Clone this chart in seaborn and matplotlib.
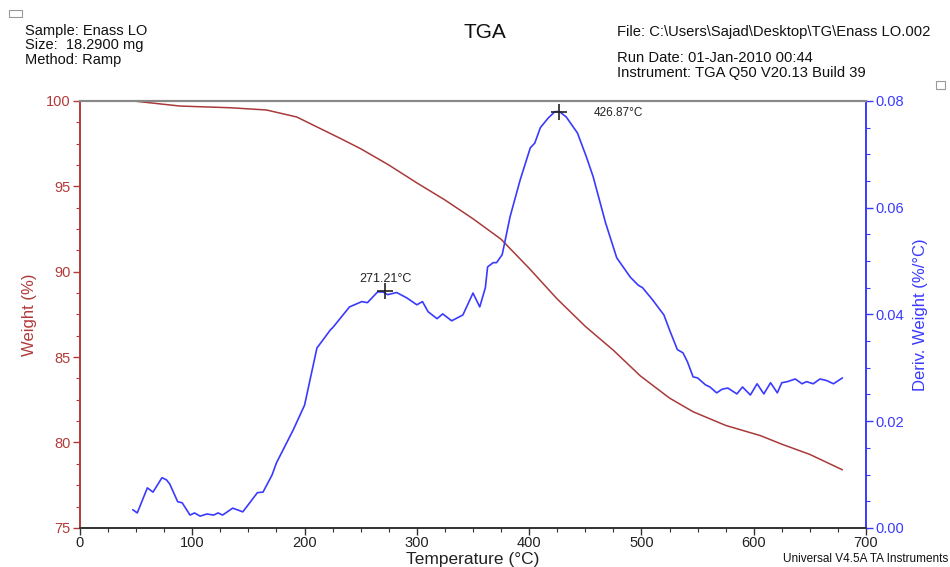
import matplotlib
matplotlib.use("Agg")
import matplotlib.pyplot as plt
import matplotlib.patches as mpatches
from matplotlib.ticker import MultipleLocator
import seaborn as sns
import pandas as pd

sns.set_theme(style="white")
plt.rcParams['font.family'] = ['Liberation Sans', 'DejaVu Sans']

# Weight (%) vs temperature
temp_w = [47, 89, 134, 166, 193, 232, 250, 275, 300, 325, 350, 375, 400, 425,
          450, 475, 499, 525, 546, 575, 606, 625, 650, 679]
weight = [100.0, 99.7, 99.6, 99.47, 99.06, 97.8, 97.2, 96.25, 95.2, 94.2, 93.1,
          91.9, 90.2, 88.4, 86.8, 85.4, 83.9, 82.6, 81.8, 81.0, 80.4, 79.9, 79.3, 78.4]

# Derivative weight (%/°C) vs temperature
temp_d = [47, 51, 60, 65, 73, 77, 80, 87, 91, 98, 102, 107, 113, 119, 123, 127,
          136, 145, 158, 163, 171, 175, 190, 200, 211, 223, 225, 240, 251, 256,
          265, 270, 274, 282, 291, 300, 305, 310, 318, 323, 331, 341, 350, 356,
          361, 363, 368, 371, 376, 383, 392, 401, 405, 410, 417, 423, 427, 433,
          443, 451, 457, 468, 478, 490, 497, 501, 510, 520, 525, 532, 537, 541,
          546, 550, 557, 561, 567, 572, 577, 585, 590, 597, 603, 609, 615, 621,
          625, 630, 637, 643, 647, 653, 659, 665, 671, 679]
deriv = [0.0034, 0.0028, 0.0075, 0.0067, 0.0094, 0.0090, 0.0082, 0.0049, 0.0047,
         0.0024, 0.0028, 0.0022, 0.0026, 0.0024, 0.0028, 0.0024, 0.0037, 0.0030,
         0.0066, 0.0067, 0.0099, 0.0122, 0.0184, 0.0230, 0.0337, 0.0371, 0.0375,
         0.0414, 0.0424, 0.0422, 0.0442, 0.0442, 0.0437, 0.0441, 0.0431, 0.0418,
         0.0424, 0.0405, 0.0392, 0.0401, 0.0388, 0.0399, 0.0440, 0.0414, 0.0450,
         0.0489, 0.0497, 0.0497, 0.0512, 0.0583, 0.0652, 0.0712, 0.0721, 0.0750,
         0.0768, 0.0780, 0.0780, 0.0770, 0.0740, 0.0695, 0.0658, 0.0572, 0.0506,
         0.0470, 0.0455, 0.0450, 0.0427, 0.0399, 0.0371, 0.0334, 0.0328, 0.0311,
         0.0283, 0.0281, 0.0268, 0.0264, 0.0253, 0.0260, 0.0262, 0.0251, 0.0264,
         0.0249, 0.0270, 0.0251, 0.0272, 0.0253, 0.0272, 0.0274, 0.0279, 0.0270,
         0.0274, 0.0270, 0.0279, 0.0276, 0.0270, 0.0281]

peak_t = [271.21, 426.87]
peak_d = [0.0443, 0.0780]
peak_labels = ["271.21°C", "426.87°C"]

RED = "#A83A3A"
REDT = "#B23A3A"
BLUE = "#3A3AFF"

df_w = pd.DataFrame({"T": temp_w, "W": weight})
df_d = pd.DataFrame({"T": temp_d, "D": deriv})

fig = plt.figure(figsize=(9.5, 5.67), dpi=100)
ax = fig.add_axes([0.0842, 0.069, 0.8274, 0.753])
ax2 = ax.twinx()

sns.lineplot(data=df_w, x="T", y="W", ax=ax, color=RED, linewidth=1.1, sort=False)
sns.lineplot(data=df_d, x="T", y="D", ax=ax2, color=BLUE, linewidth=1.2, sort=False)

ax.set_xlim(0, 700)
ax.set_ylim(75, 100)
ax2.set_ylim(0, 0.08)

ax.xaxis.set_major_locator(MultipleLocator(100))
ax.xaxis.set_minor_locator(MultipleLocator(25))
ax.yaxis.set_major_locator(MultipleLocator(5))
ax.yaxis.set_minor_locator(MultipleLocator(1.25))
ax2.yaxis.set_major_locator(MultipleLocator(0.02))
ax2.yaxis.set_minor_locator(MultipleLocator(0.005))
ax2.yaxis.set_major_formatter(matplotlib.ticker.FormatStrFormatter("%.2f"))

ax.tick_params(axis="x", which="major", direction="out", length=5, width=1,
               color="#333333", labelsize=10.5, labelcolor="#222222", bottom=True, pad=1)
ax.tick_params(axis="x", which="minor", direction="out", length=3, width=0.8,
               color="#333333", bottom=True)
ax.tick_params(axis="y", which="major", direction="out", length=5, width=1,
               color=REDT, labelsize=10.5, labelcolor=REDT, left=True, pad=2)
ax.tick_params(axis="y", which="minor", direction="out", length=3, width=0.8,
               color=REDT, left=True)
ax2.tick_params(axis="y", which="major", direction="out", length=5, width=1,
                color=BLUE, labelsize=10.5, labelcolor=BLUE, right=True, pad=2)
ax2.tick_params(axis="y", which="minor", direction="out", length=3, width=0.8,
                color=BLUE, right=True)

for a in (ax, ax2):
    a.spines["top"].set_color("#888888")
    a.spines["top"].set_linewidth(1.5)
    a.spines["bottom"].set_color("#333333")
    a.spines["left"].set_color(REDT)
    a.spines["right"].set_color(BLUE)
    a.spines["left"].set_linewidth(1.2)
    a.spines["right"].set_linewidth(1.2)

ax.set_xlabel("Temperature (°C)", fontsize=12.5, color="#222222", labelpad=1)
ax.set_ylabel("Weight (%)", fontsize=12, color=REDT, labelpad=6)
ax2.set_ylabel("Deriv. Weight (%/°C)", fontsize=12, color=BLUE, labelpad=6)

ax2.plot(peak_t, peak_d, linestyle="none", marker="+", markersize=11,
         markeredgewidth=1.2, color="#222222")
ax2.annotate(peak_labels[0], (peak_t[0], peak_d[0]), xytext=(1, 5),
             textcoords="offset points", ha="center", va="bottom",
             fontsize=9, color="#222222")
ax2.annotate(peak_labels[1], (peak_t[1], peak_d[1]), xytext=(25, -1),
             textcoords="offset points", ha="left", va="center",
             fontsize=8.5, color="#222222")

fig.text(0.51, 0.942, "TGA", ha="center", va="center", fontsize=15, color="#111111")
fig.text(0.026, 0.946, "Sample: Enass LO", fontsize=10.5, va="center", color="#111111")
fig.text(0.026, 0.920, "Size:  18.2900 mg", fontsize=10.5, va="center", color="#111111")
fig.text(0.026, 0.895, "Method: Ramp", fontsize=10.5, va="center", color="#111111")
fig.text(0.649, 0.944, "File: C:\\Users\\Sajad\\Desktop\\TG\\Enass LO.002", fontsize=10.6,
         va="center", color="#111111")
fig.text(0.649, 0.897, "Run Date: 01-Jan-2010 00:44", fontsize=10.6, va="center", color="#111111")
fig.text(0.649, 0.871, "Instrument: TGA Q50 V20.13 Build 39", fontsize=10.6, va="center",
         color="#111111")
fig.text(0.998, 0.014, "Universal V4.5A TA Instruments", ha="right", va="center",
         fontsize=8.5, color="#111111")

fig.patches.append(mpatches.Rectangle((0.009, 0.970), 0.014, 0.012, transform=fig.transFigure,
                                      fill=False, edgecolor="#999999", linewidth=0.8))
fig.patches.append(mpatches.Rectangle((0.985, 0.843), 0.010, 0.015, transform=fig.transFigure,
                                      fill=False, edgecolor="#999999", linewidth=0.8))

fig.savefig("out.png", dpi=100)
